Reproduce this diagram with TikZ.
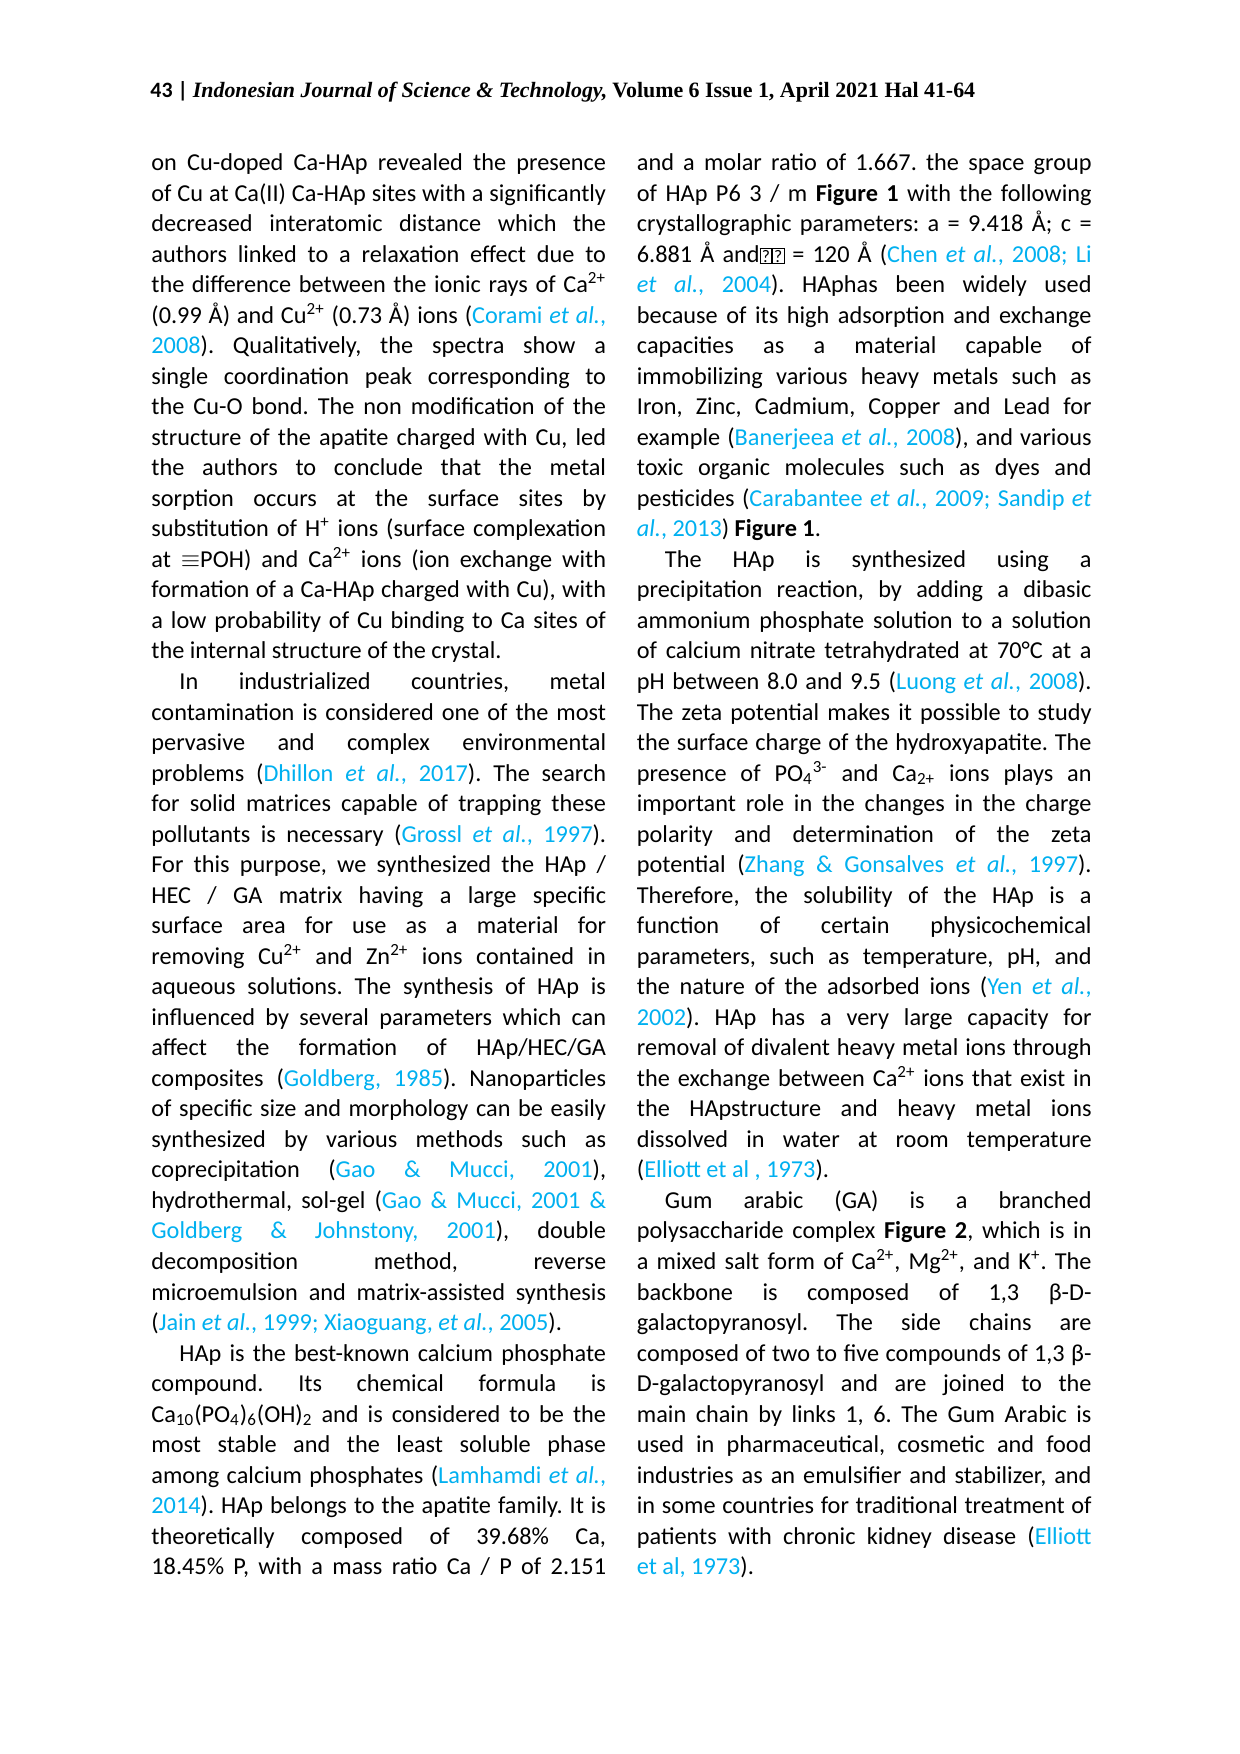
\documentclass[tikz,border=0pt]{standalone}
\usepackage{fontspec}
\setmainfont{Carlito}
\newfontfamily\entetefont{Liberation Serif}
\definecolor{bleuref}{RGB}{0,176,240}
\newlength{\colw}
\setlength{\colw}{77.0mm}
\frenchspacing
% lignes de colonne
\newcommand{\fl}[1]{\hbox to \colw{#1}}
\newcommand{\pl}[1]{\hbox to \colw{#1\hfil}}
\newcommand{\il}[1]{\hbox to \colw{\hspace*{4.75mm}#1}}
\newcommand{\cit}[1]{\textcolor{bleuref}{#1}}
\newcommand{\qb}{{\fboxsep=0.6pt\fboxrule=0.4pt\fbox{\fontsize{8.5}{8.5}\selectfont ?}}}
\newcommand{\expo}[1]{\textsuperscript{#1}}
\newcommand{\indb}[1]{\textsubscript{#1}}

\begin{document}
\begin{tikzpicture}[x=0.16935mm,y=-0.16935mm]
\tikzset{colonne/.style={inner sep=0pt, anchor=base west, font=\fontsize{11.7pt}{14.71pt}\selectfont},
         entete/.style={inner sep=0pt, anchor=base west, font=\fontsize{10.55pt}{12pt}\selectfont}}
\fill[white] (0,0) rectangle (1240,1754);
\useasboundingbox (0,0) rectangle (1240,1754);
\node[entete] (T0) at (150,97) {\textbf{43 |} {\entetefont\bfseries\itshape Indonesian Journal of Science \& Technology,} {\entetefont\bfseries Volume 6 Issue 1, April 2021 Hal 41-64}};
\node[colonne] (C1) at (151,170.5) {\vtop{\lineskiplimit=-100pt
\fl{on Cu-doped Ca-HAp revealed the presence}
\fl{of Cu at Ca(II) Ca-HAp sites with a significantly}
\fl{decreased interatomic distance which the}
\fl{authors linked to a relaxation effect due to}
\fl{the difference between the ionic rays of Ca\expo{2+}}
\fl{(0.99 Å) and Cu\expo{2+} (0.73 Å) ions (\cit{Corami \textit{et al.},}}
\fl{\cit{2008}). Qualitatively, the spectra show a}
\fl{single coordination peak corresponding to}
\fl{the Cu-O bond. The non modification of the}
\fl{structure of the apatite charged with Cu, led}
\fl{the authors to conclude that the metal}
\fl{sorption occurs at the surface sites by}
\fl{substitution of H\expo{+} ions (surface complexation}
\fl{at \ensuremath{\equiv}POH) and Ca\expo{2+} ions (ion exchange with}
\fl{formation of a Ca-HAp charged with Cu), with}
\fl{a low probability of Cu binding to Ca sites of}
\pl{the internal structure of the crystal.}
\il{In industrialized countries, metal}
\fl{contamination is considered one of the most}
\fl{pervasive and complex environmental}
\fl{problems (\cit{Dhillon \textit{et al.}, 2017}). The search}
\fl{for solid matrices capable of trapping these}
\fl{pollutants is necessary (\cit{Grossl \textit{et al.}, 1997}).}
\fl{For this purpose, we synthesized the HAp /}
\fl{HEC / GA matrix having a large specific}
\fl{surface area for use as a material for}
\fl{removing Cu\expo{2+} and Zn\expo{2+} ions contained in}
\fl{aqueous solutions. The synthesis of HAp is}
\fl{influenced by several parameters which can}
\fl{affect the formation of HAp/HEC/GA}
\fl{composites (\cit{Goldberg, 1985}). Nanoparticles}
\fl{of specific size and morphology can be easily}
\fl{synthesized by various methods such as}
\fl{coprecipitation (\cit{Gao \& Mucci, 2001}),}
\fl{hydrothermal, sol-gel (\cit{Gao \& Mucci, 2001 \&}}
\fl{\cit{Goldberg \& Johnstony, 2001}), double}
\fl{decomposition method, reverse}
\fl{microemulsion and matrix-assisted synthesis}
\pl{(\cit{Jain \textit{et al.}, 1999; Xiaoguang, \textit{et al.}, 2005}).}
\il{HAp is the best-known calcium phosphate}
\fl{compound. Its chemical formula is}
\fl{Ca\indb{10}(PO\indb{4})\indb{6}(OH)\indb{2} and is considered to be the}
\fl{most stable and the least soluble phase}
\fl{among calcium phosphates (\cit{Lamhamdi \textit{et al.},}}
\fl{\cit{2014}). HAp belongs to the apatite family. It is}
\fl{theoretically composed of 39.68\% Ca,}
\fl{18.45\% P, with a mass ratio Ca / P of 2.151}
}};
\node[colonne] (C2) at (636.5,170.5) {\vtop{\lineskiplimit=-100pt
\fl{and a molar ratio of 1.667. the space group}
\fl{of HAp P6 3 / m \textbf{Figure 1} with the following}
\fl{crystallographic parameters: a = 9.418 Å; c =}
\fl{6.881 Å and\qb\qb{} = 120 Å (\cit{Chen \textit{et al.}, 2008; Li}}
\fl{\cit{\textit{et al.}, 2004}). HAphas been widely used}
\fl{because of its high adsorption and exchange}
\fl{capacities as a material capable of}
\fl{immobilizing various heavy metals such as}
\fl{Iron, Zinc, Cadmium, Copper and Lead for}
\fl{example (\cit{Banerjeea \textit{et al.}, 2008}), and various}
\fl{toxic organic molecules such as dyes and}
\fl{pesticides (\cit{Carabantee \textit{et al.}, 2009; Sandip \textit{et}}}
\pl{\cit{\textit{al.}, 2013}) \textbf{Figure 1}.}
\il{The HAp is synthesized using a}
\fl{precipitation reaction, by adding a dibasic}
\fl{ammonium phosphate solution to a solution}
\fl{of calcium nitrate tetrahydrated at 70°C at a}
\fl{pH between 8.0 and 9.5 (\cit{Luong \textit{et al.}, 2008}).}
\fl{The zeta potential makes it possible to study}
\fl{the surface charge of the hydroxyapatite. The}
\fl{presence of PO\indb{4}\expo{3-} and Ca\indb{2+} ions plays an}
\fl{important role in the changes in the charge}
\fl{polarity and determination of the zeta}
\fl{potential (\cit{Zhang \& Gonsalves \textit{et al.}, 1997}).}
\fl{Therefore, the solubility of the HAp is a}
\fl{function of certain physicochemical}
\fl{parameters, such as temperature, pH, and}
\fl{the nature of the adsorbed ions (\cit{Yen \textit{et al.},}}
\fl{\cit{2002}). HAp has a very large capacity for}
\fl{removal of divalent heavy metal ions through}
\fl{the exchange between Ca\expo{2+} ions that exist in}
\fl{the HApstructure and heavy metal ions}
\fl{dissolved in water at room temperature}
\pl{(\cit{Elliott et al , 1973}).}
\il{Gum arabic (GA) is a branched}
\fl{polysaccharide complex \textbf{Figure 2}, which is in}
\fl{a mixed salt form of Ca\expo{2+}, Mg\expo{2+}, and K\expo{+}. The}
\fl{backbone is composed of 1,3 β-D-}
\fl{galactopyranosyl. The side chains are}
\fl{composed of two to five compounds of 1,3 β-}
\fl{D-galactopyranosyl and are joined to the}
\fl{main chain by links 1, 6. The Gum Arabic is}
\fl{used in pharmaceutical, cosmetic and food}
\fl{industries as an emulsifier and stabilizer, and}
\fl{in some countries for traditional treatment of}
\fl{patients with chronic kidney disease (\cit{Elliott}}
\pl{\cit{et al, 1973}).}
}};
\end{tikzpicture}
\end{document}
